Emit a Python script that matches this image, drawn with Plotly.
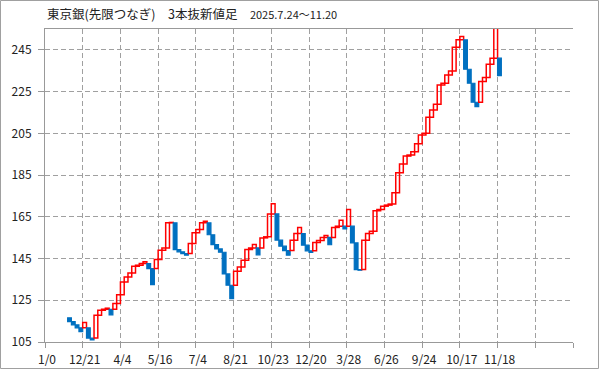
import plotly.graph_objects as go

# ---- data ----
first_index = 6  # category position of the first brick
brick_open = [
    116.6, 114.8, 113.2, 111.8, 111.8, 111.8, 106.9, 106.9, 117.8, 120.2,
    120.7, 120.7, 120.7, 123.4, 127.7, 133.8, 136.2, 138.1, 141.3, 141.8,
    142.6, 142.6, 140.2, 140.2, 144.5, 149.0, 150.1, 162.1, 162.1, 149.3,
    148.2, 147.4, 147.4, 152.2, 157.3, 158.9, 162.1, 162.1, 156.4, 151.7,
    149.6, 148.0, 137.6, 132.2, 132.2, 138.9, 141.0, 144.2, 149.3, 150.1,
    150.1, 150.1, 154.9, 155.4, 166.4, 166.4, 153.8, 150.9, 148.8, 148.8,
    153.8, 157.0, 157.0, 151.4, 148.7, 148.7, 152.7, 153.6, 155.1, 155.1,
    155.1, 159.9, 160.5, 160.5, 160.5, 160.5, 152.5, 139.7, 139.7, 153.8,
    157.0, 158.1, 167.9, 168.5, 170.1, 170.6, 171.1, 176.5, 186.1, 190.3,
    194.1, 194.6, 196.2, 200.0, 204.2, 205.0, 212.7, 216.2, 218.9, 228.2,
    229.0, 233.0, 234.9, 246.3, 249.8, 249.8, 235.7, 229.0, 219.9, 219.9,
    229.8, 231.7, 238.1, 241.0, 241.0,
]
brick_close = [
    114.8, 113.2, 111.8, 110.0, 114.3, 106.9, 106.0, 117.8, 120.2, 120.7,
    121.2, 118.0, 123.4, 127.7, 133.8, 136.2, 138.1, 141.3, 141.8, 142.6,
    143.4, 140.2, 132.5, 144.5, 149.0, 150.1, 162.1, 162.3, 149.3, 148.2,
    147.4, 146.6, 152.2, 157.3, 158.9, 162.1, 162.9, 156.4, 151.7, 149.6,
    148.0, 137.6, 132.2, 125.8, 138.9, 141.0, 144.2, 149.3, 150.1, 151.7,
    146.8, 154.9, 155.4, 166.4, 171.2, 153.8, 150.9, 148.8, 146.6, 153.8,
    157.0, 159.9, 151.4, 148.7, 147.9, 152.7, 153.6, 155.1, 156.0, 151.6,
    159.9, 160.5, 163.4, 159.2, 168.5, 152.5, 139.7, 139.4, 153.8, 157.0,
    158.1, 167.9, 168.5, 170.1, 170.6, 171.1, 176.5, 186.1, 190.3, 194.1,
    194.6, 196.2, 200.0, 204.2, 205.0, 212.7, 216.2, 218.9, 228.2, 229.0,
    233.0, 234.9, 246.3, 249.8, 251.4, 235.7, 229.0, 219.9, 217.8, 229.8,
    231.7, 238.1, 241.0, 256.0, 232.7,
]
tick_labels = ["1/0", "12/21", "4/4", "5/16", "7/4", "8/21", "10/23", "12/20",
               "3/28", "6/26", "9/24", "10/17", "11/18", "", ""]
y_ticks = [105, 125, 145, 165, 185, 205, 225, 245]
n_categories = 140

# ---- derived ----
xs = list(range(first_index, first_index + len(brick_open)))
base = [min(o, c) for o, c in zip(brick_open, brick_close)]
height = [abs(c - o) for o, c in zip(brick_open, brick_close)]
up = [c > o for o, c in zip(brick_open, brick_close)]
RED, BLUE = "#FF0000", "#0070C0"
fill = ["rgba(0,0,0,0)" if u else BLUE for u in up]
lcol = [RED if u else BLUE for u in up]
lw = [1.5 if u else 1.2 for u in up]

fig = go.Figure(go.Bar(
    x=xs, y=height, base=base, width=1,
    marker=dict(color=fill, line=dict(color=lcol, width=lw)),
    hoverinfo="skip",
))

W, H = 599, 369
L, R, T, B = 45, 26, 29, 27
pw, ph = W - L - R, H - T - B
GRID = "#A0A0A0"
FONT = "Noto Sans CJK JP"

fig.update_layout(
    width=W, height=H,
    margin=dict(l=L, r=R, t=T, b=B, pad=0, autoexpand=False),
    paper_bgcolor="white", plot_bgcolor="white",
    showlegend=False,
    font=dict(family=FONT, size=12, color="#222222"),
    xaxis=dict(
        range=[-0.5, n_categories - 0.5],
        tickmode="array",
        tickvals=[-0.5 + 10 * k for k in range(len(tick_labels))],
        ticktext=tick_labels,
        ticklabelshift=2, ticklabelstandoff=2,
        ticks="outside", ticklen=5, tickcolor="#999999",
        showline=True, linecolor="#999999", linewidth=1, mirror=True,
        showgrid=True, gridcolor=GRID, griddash="5px,3px", gridwidth=1,
        zeroline=False, fixedrange=True, automargin=False,
        tickfont=dict(size=12, color="#222222"),
    ),
    yaxis=dict(
        range=[105, 255],
        tickmode="array", tickvals=y_ticks,
        ticks="outside", ticklen=6, tickcolor="#999999",
        ticklabelstandoff=4,
        showline=True, linecolor="#999999", linewidth=1,
        showgrid=True, gridcolor=GRID, griddash="5px,3px", gridwidth=1,
        zeroline=False, fixedrange=True, automargin=False,
        tickfont=dict(size=12, color="#222222"),
    ),
)

# outer frame of the picture
fig.add_shape(type="rect", xref="paper", yref="paper",
              x0=(0.5 - L) / pw, x1=(W - 0.5 - L) / pw,
              y0=-(B - 0.5) / ph, y1=1 + (T - 0.5) / ph,
              line=dict(color="#A0A0A0", width=1), layer="below")

fig.add_annotation(
    xref="paper", yref="paper", x=0, y=1 + (T - 14) / ph,
    xanchor="left", yanchor="middle", showarrow=False,
    text="東京銀(先限つなぎ)　3本抜新値足　<span style='font-size:11px'>2025.7.24～11.20</span>",
    font=dict(family=FONT, size=12.5, color="#222222"),
)

fig.write_html(
    "out.html",
    config={"displayModeBar": False, "staticPlot": True},
    post_script="document.body.style.margin='0';document.body.style.overflow='hidden';",
)
